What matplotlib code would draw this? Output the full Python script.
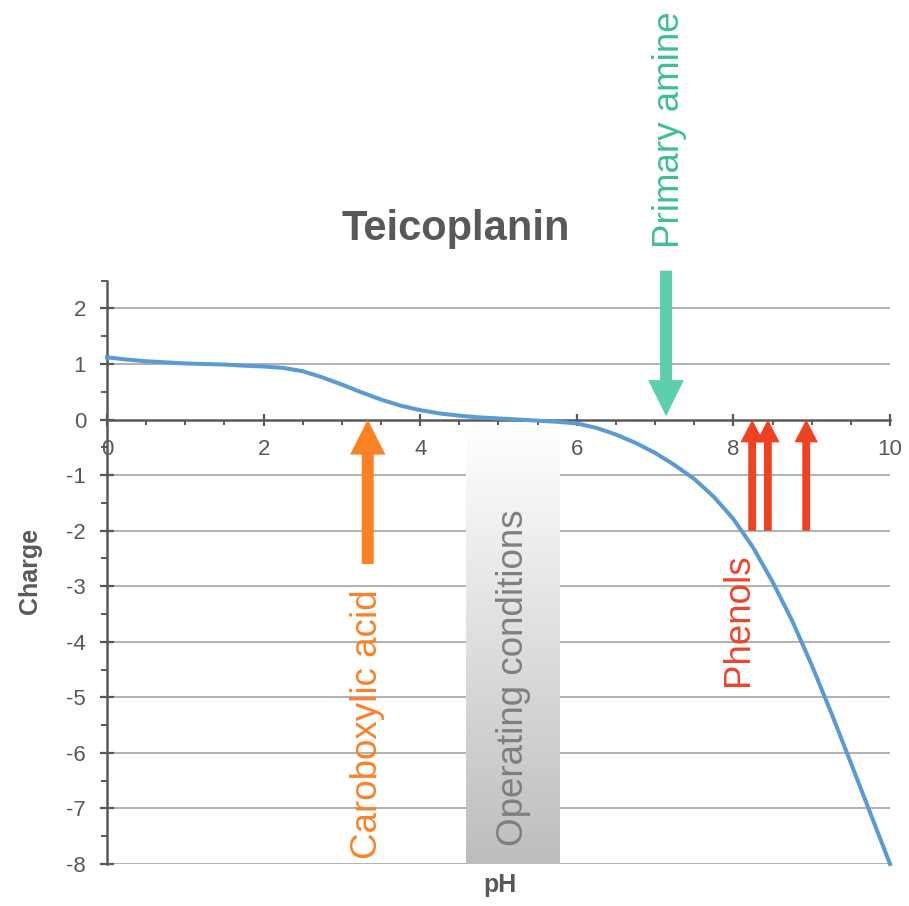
import numpy as np
import matplotlib
matplotlib.use("Agg")
import matplotlib.pyplot as plt
from matplotlib.colors import LinearSegmentedColormap

plt.rcParams['font.family'] = ['Liberation Sans', 'DejaVu Sans']
plt.rcParams['axes.unicode_minus'] = False

# 曲线数据 (pH / charge)
ph = [0, 0.25, 0.5, 0.75, 1.0, 1.25, 1.5, 1.75, 2.0, 2.25, 2.5, 2.75, 3.0, 3.25,
      3.5, 3.75, 4.0, 4.25, 4.5, 4.75, 5.0, 5.25, 5.5, 5.75, 6.0, 6.25, 6.5,
      6.75, 7.0, 7.25, 7.5, 7.75, 8.0, 8.25, 8.5, 8.75, 9.0, 9.25, 9.5, 9.75, 10]
charge = [1.12, 1.08, 1.05, 1.03, 1.01, 1.00, 0.99, 0.97, 0.955, 0.93, 0.87,
          0.76, 0.63, 0.49, 0.36, 0.25, 0.17, 0.11, 0.07, 0.04, 0.02, 0.00,
          -0.02, -0.04, -0.07, -0.15, -0.27, -0.42, -0.60, -0.82, -1.07,
          -1.39, -1.79, -2.30, -2.92, -3.62, -4.42, -5.28, -6.18, -7.09, -8.00]

xticks = [0, 2, 4, 6, 8, 10]
yticks = [2, 1, 0, -1, -2, -3, -4, -5, -6, -7, -8]

# 标注: pKa 位置
amine_pka = 7.14
acid_pka = 3.33
phenol_pka = [8.24, 8.44, 8.93]
operating = (4.59, 5.78)

dark = '#595959'

fig = plt.figure(figsize=(9.09, 9.06), dpi=100)
ax = fig.add_axes([0.1177, 0.0464, 0.8614, 0.6438])

# 网格线
for y in yticks:
    if y != 0:
        ax.axhline(y, color='#b0b0b0', lw=1.4, zorder=0.5)

# 操作条件区域 (渐变)
cmap = LinearSegmentedColormap.from_list('op', ['#ffffff', '#bdbdbd'])
grad = np.linspace(0, 1, 256).reshape(-1, 1)
ax.imshow(grad, extent=[operating[0], operating[1], -8, -0.1], aspect='auto',
          cmap=cmap, origin='upper', zorder=1)

# 曲线
ax.plot(ph, charge, color='#5b9bd5', lw=2.9, zorder=3, clip_on=False,
        solid_joinstyle='round')

# 箭头
ax.arrow(amine_pka, 2.68, 0, 0.06 - 2.68, width=0.153, head_width=0.456,
         head_length=0.65, length_includes_head=True, color='#5dcfae',
         lw=0, zorder=4, clip_on=False)
ax.arrow(acid_pka, -2.6, 0, 2.6, width=0.153, head_width=0.45,
         head_length=0.63, length_includes_head=True, color='#fd8224',
         lw=0, zorder=4, clip_on=False)
for p in phenol_pka:
    ax.arrow(p, -2.0, 0, 2.0, width=0.10, head_width=0.30,
             head_length=0.41, length_includes_head=True, color='#f04123',
             lw=0, zorder=4, clip_on=False)

# 文字
ax.text(7.18, 5.22, 'Primary amine', rotation=90, ha='center', va='center',
        fontsize=26.5, color='#3fbf94', clip_on=False, zorder=5)
ax.text(3.33, -5.49, 'Caroboxylic acid', rotation=90, ha='center', va='center',
        fontsize=26.5, color='#f9822b', zorder=5)
ax.text(5.19, -4.65, 'Operating conditions', rotation=90, ha='center',
        va='center', fontsize=26.5, color='#7f7f7f', zorder=5)
ax.text(8.07, -3.6, 'Phenols', rotation=90, ha='center', va='center',
        fontsize=26.5, color='#ef4328', zorder=5)

# 坐标轴
ax.set_xlim(0, 10)
ax.set_ylim(-8, 2.5)
ax.set_xticks(xticks)
ax.set_yticks(yticks)
ax.set_xticks(np.arange(0, 10.01, 0.5), minor=True)
ax.set_yticks(np.arange(-8, 2.51, 0.5), minor=True)

ax.spines['top'].set_visible(False)
ax.spines['right'].set_visible(False)
ax.spines['bottom'].set_position(('data', 0))
for s in ['left', 'bottom']:
    ax.spines[s].set_color(dark)
    ax.spines[s].set_linewidth(1.8)
    ax.spines[s].set_zorder(2)

ax.tick_params(axis='both', which='major', direction='inout', color=dark,
               width=1.6, labelsize=16, labelcolor=dark)
ax.tick_params(axis='y', which='major', length=10, pad=10)
ax.tick_params(axis='x', which='major', length=8, pad=10)
ax.tick_params(axis='y', which='minor', direction='out', length=4.3,
               width=1.4, color=dark)
ax.tick_params(axis='x', which='minor', direction='out', length=3.6,
               width=1.4, color=dark)

# 标题和轴标签
fig.text(456 / 909, 1 - 240 / 906, 'Teicoplanin', ha='center', va='baseline',
         fontsize=30, fontweight='bold', color=dark)
fig.text(30 / 909, 1 - 571 / 906, 'Charge', rotation=90, ha='center',
         va='center', fontsize=18, fontweight='bold', color=dark)
fig.text(500 / 909, 1 - 885 / 906, 'pH', ha='center', va='center',
         fontsize=18, fontweight='bold', color=dark)

fig.savefig('out.png', dpi=100)
